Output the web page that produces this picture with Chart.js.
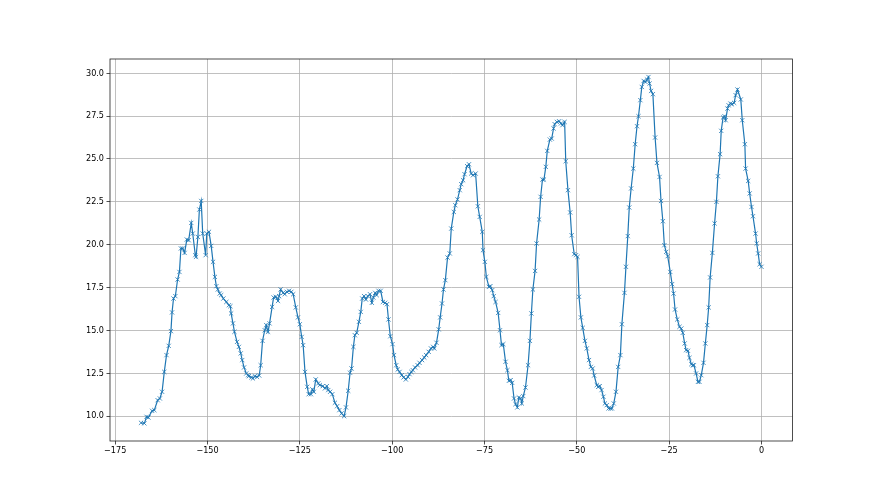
<!DOCTYPE html>
<html>
<head>
<meta charset="utf-8">
<script src="https://cdn.jsdelivr.net/npm/chart.js@4/dist/chart.umd.min.js"></script>
<style>
  html, body { margin: 0; padding: 0; background: #fff; }
  canvas { display: block; }
</style>
</head>
<body>
<canvas id="chart" width="880" height="495"></canvas>
<script>
'use strict';

// ************************** DATA ****************************************** //
let xValues = [
  -168.0, -167.1, -166.5, -166.0, -165.0, -164.4, -163.5, -162.9, -162.3, -161.7,
  -161.1, -160.5, -159.9, -159.6, -159.2, -158.7, -158.1, -157.6, -157.2, -156.7,
  -156.2, -155.6, -155.1, -154.4, -154.0, -153.3, -153.1, -152.6, -152.2, -151.7,
  -151.3, -150.5, -150.2, -149.6, -149.0, -148.5, -148.0, -147.6, -147.2, -146.7,
  -146.3, -145.7, -144.9, -144.2, -143.8, -143.6, -143.1, -142.7, -142.0, -141.5,
  -141.0, -140.6, -140.1, -139.5, -139.0,
  -138.8, -138.1, -137.7, -137.2, -136.6, -136.0, -135.6, -135.1, -134.5, -134.1,
  -133.6, -133.2, -132.5, -132.1, -131.5, -130.9, -130.6, -130.2, -129.5, -129.1,
  -128.5, -127.9, -127.3, -126.8, -126.1, -125.5, -125.0, -124.5, -124.1, -123.6,
  -123.0, -122.6, -122.0, -121.6, -121.2, -120.7, -120.0, -119.6, -118.8, -118.2,
  -117.7, -117.3, -116.8, -116.2, -115.5, -114.9, -114.3, -113.7, -113.0, -112.5,
  -111.9, -111.4, -111.0, -110.5, -110.1, -109.6, -109.0, -108.5, -108.1, -107.6,
  -107.1, -106.6, -106.0,
  -105.5, -105.1, -104.6, -104.2, -103.7, -103.1, -102.5, -101.9, -101.4, -101.0,
  -100.5, -99.9, -99.5, -98.9, -98.5, -98.0, -97.4, -96.9, -96.3, -95.7,
  -95.3, -94.8, -94.4, -93.8, -93.1, -92.6, -91.9, -91.3, -90.8, -90.1,
  -89.5, -88.9, -88.6, -88.0, -87.4, -87.0, -86.5, -86.1, -85.6,
  -85.0, -84.4, -84.0, -83.3, -82.9, -82.3, -81.7, -81.3, -80.8, -80.4,
  -79.7, -79.2, -78.6, -78.1, -77.4, -76.8, -76.3, -75.6, -75.4, -74.9,
  -74.5, -73.8, -73.4, -72.9, -72.5, -72.0, -71.3, -70.8, -70.4, -69.9,
  -69.3, -68.8, -68.4, -67.9, -67.5, -67.0, -66.6, -66.1, -65.7, -65.2,
  -64.9, -64.5, -63.9, -63.2, -62.7, -62.3, -61.9, -61.3, -60.9, -60.2,
  -59.8, -59.3, -58.9, -58.4, -58.0,
  -57.3, -56.8, -56.3, -56.0, -55.4, -54.8, -54.3, -53.9, -53.3, -53.0,
  -52.4, -51.8, -51.4, -50.7, -50.2, -49.8, -49.4, -48.9, -48.4, -47.8,
  -47.3, -46.7, -46.2, -45.7, -45.3, -44.6, -44.2, -43.8, -43.3, -42.8,
  -42.4, -41.9, -41.4, -40.9, -40.5, -40.0, -39.4, -38.8, -38.2, -37.8,
  -37.1, -36.7, -36.2, -35.8, -35.3, -34.7, -34.2, -33.7, -33.3, -32.8,
  -32.4, -31.9, -31.4, -31.0, -30.6, -30.3, -29.9, -29.4, -28.8, -28.3,
  -27.6, -27.2, -26.7, -26.3, -25.8, -25.4, -24.7, -24.2, -23.8, -23.4,
  -22.8, -22.2, -21.7, -21.3, -20.8, -20.4, -19.9, -19.5, -19.0, -18.6,
  -18.3, -17.7, -17.2, -16.8, -16.3, -15.7, -15.2, -14.7, -14.3, -13.9,
  -13.3, -12.7, -12.2, -11.8, -11.2, -10.9, -10.4, -10.0, -9.7, -9.2,
  -8.9, -8.4, -8.0, -7.4, -7.0, -6.5,
  -5.6, -5.2, -4.5, -4.3, -3.6, -3.2, -2.7, -2.3, -1.6, -1.3,
  -0.9, -0.5, 0.0
];

let yValues = [
  9.61, 9.58, 9.96, 9.92, 10.31, 10.35, 10.93, 11.03, 11.42, 12.58,
  13.56, 14.10, 14.96, 16.05, 16.86, 17.00, 17.97, 18.41, 19.78, 19.78,
  19.52, 20.30, 20.26, 21.27, 20.65, 19.39, 19.29, 20.45, 22.05, 22.55,
  20.65, 19.39, 20.65, 20.75, 19.93, 19.00, 18.12, 17.58, 17.39, 17.15,
  17.06, 16.86, 16.66, 16.47, 16.41, 15.99, 15.41, 14.92, 14.33, 14.04,
  13.66, 13.27, 12.84, 12.49, 12.39,
  12.33, 12.26, 12.20, 12.33, 12.29, 12.37, 12.97, 14.39, 15.01, 15.31,
  14.92, 15.41, 16.37, 16.92, 16.96, 16.72, 17.00, 17.39, 17.19, 17.11,
  17.25, 17.31, 17.25, 17.11, 16.34, 15.76, 15.36, 14.62, 14.14, 12.58,
  11.71, 11.28, 11.28, 11.56, 11.42, 12.14, 11.91, 11.81, 11.75, 11.62,
  11.75, 11.52, 11.42, 11.28, 10.78, 10.58, 10.35, 10.16, 10.00, 10.51,
  11.48, 12.53, 12.78, 14.04, 14.72, 14.86, 15.50, 16.08, 16.86, 17.00,
  16.80, 17.00, 17.11,
  16.61, 16.92, 17.19, 17.06, 17.31, 17.31, 16.66, 16.61, 16.53, 15.64,
  14.66, 14.20, 13.56, 12.97, 12.72, 12.58, 12.39, 12.26, 12.14, 12.29,
  12.45, 12.58, 12.68, 12.84, 12.97, 13.11, 13.27, 13.42, 13.56, 13.75,
  13.95, 14.04, 13.95, 14.28, 15.06, 15.76, 16.57, 17.39, 17.93,
  19.25, 19.49, 20.94, 21.91, 22.30, 22.64, 23.18, 23.53, 23.76, 24.11,
  24.58, 24.69, 24.15, 24.05, 24.15, 22.24, 21.62, 20.75, 19.68, 19.00,
  18.12, 17.54, 17.58, 17.35, 17.00, 16.66, 16.02, 15.01, 14.14, 14.20,
  13.17, 12.68, 12.06, 12.10, 11.94, 11.03, 10.70, 10.51, 11.09, 11.03,
  10.74, 11.17, 11.67, 12.97, 14.39, 15.99, 17.39, 18.47, 20.07, 21.47,
  22.79, 23.80, 23.80, 24.54, 25.47,
  26.13, 26.19, 26.78, 27.03, 27.16, 27.20, 27.07, 26.97, 27.16, 24.87,
  23.18, 21.88, 20.55, 19.45, 19.39, 19.29, 16.96, 15.76, 15.15, 14.39,
  13.95, 13.27, 12.87, 12.78, 12.37, 11.81, 11.71, 11.75, 11.52, 11.13,
  10.74, 10.64, 10.45, 10.45, 10.45, 10.74, 11.42, 12.87, 13.56, 15.36,
  17.19, 18.71, 20.50, 22.17, 23.28, 24.44, 25.86, 26.91, 27.49, 28.43,
  29.20, 29.55, 29.49, 29.63, 29.78, 29.40, 28.97, 28.78, 26.25, 24.77,
  23.95, 22.55, 21.37, 19.97, 19.58, 19.33, 18.41, 17.70, 17.15, 16.22,
  15.64, 15.21, 15.11, 14.86, 14.24, 13.85, 13.81, 13.40, 13.03, 12.97,
  12.97, 12.49, 12.00, 12.00, 12.39, 13.11, 14.24, 15.31, 16.34, 18.09,
  19.52, 21.24, 22.50, 23.99, 25.28, 26.64, 27.42, 27.49, 27.26, 27.94,
  28.13, 28.23, 28.19, 28.27, 28.72, 29.05,
  28.47, 27.26, 25.86, 24.44, 23.72, 22.99, 22.20, 21.66, 20.65, 20.07,
  19.49, 18.86, 18.71
];

let xTicks = [-175, -150, -125, -100, -75, -50, -25, 0];
let yTicks = [10.0, 12.5, 15.0, 17.5, 20.0, 22.5, 25.0, 27.5, 30.0];

// ************************** HELPERS *************************************** //
let points = [];
for(let i = 0; i < xValues.length; i++) {
  points.push({ x: xValues[i], y: yValues[i] });
}

let tickFont = { family: '"DejaVu Sans Condensed", "DejaVu Sans", sans-serif', size: 9 };

function formatX(value) {
  return value < 0 ? '\u2212' + Math.abs(value) : String(value);
}

function formatY(value) {
  return value.toFixed(1);
}

// draw all four spines like the original axes box
let frame = {
  id: 'frame',
  afterDraw(chart) {
    let a = chart.chartArea;
    let ctx = chart.ctx;
    ctx.save();
    ctx.strokeStyle = '#222';
    ctx.lineWidth = 0.8;
    ctx.strokeRect(a.left, a.top, a.right - a.left, a.bottom - a.top);
    ctx.restore();
  }
};

// ************************** CHART ***************************************** //
let chart = document.getElementById('chart');

new Chart(chart, {
  type: 'line',
  data: {
    datasets: [{
      data: points,
      borderColor: '#1f77b4',
      borderWidth: 1.2,
      fill: false,
      tension: 0,
      pointStyle: 'crossRot',
      pointRadius: 3,
      pointBorderWidth: 0.8,
      pointBorderColor: '#1f77b4',
      pointBackgroundColor: '#1f77b4'
    }]
  },
  options: {
    responsive: false,
    animation: false,
    layout: { padding: { left: 0, right: 87.5, top: 59, bottom: 0 } },
    plugins: {
      legend: { display: false },
      tooltip: { enabled: false }
    },
    scales: {
      x: {
        type: 'linear',
        min: -176.4,
        max: 8.4,
        afterBuildTicks: function(scale) {
          scale.ticks = xTicks.map(v => ({ value: v }));
        },
        afterFit: function(scale) {
          scale.height = 54;
        },
        grid: { color: '#b0b0b0', lineWidth: 0.8, tickColor: '#222', tickLength: 3.5 },
        border: { display: false },
        ticks: { font: tickFont, color: '#000', padding: 1, maxRotation: 0, autoSkip: false, callback: formatX }
      },
      y: {
        type: 'linear',
        min: 8.55,
        max: 30.83,
        afterBuildTicks: function(scale) {
          scale.ticks = yTicks.map(v => ({ value: v }));
        },
        afterFit: function(scale) {
          scale.width = 110;
        },
        grid: { color: '#b0b0b0', lineWidth: 0.8, tickColor: '#222', tickLength: 3.5 },
        border: { display: false },
        ticks: { font: tickFont, color: '#000', padding: 2.5, autoSkip: false, callback: formatY }
      }
    }
  },
  plugins: [frame]
});
</script>
</body>
</html>
